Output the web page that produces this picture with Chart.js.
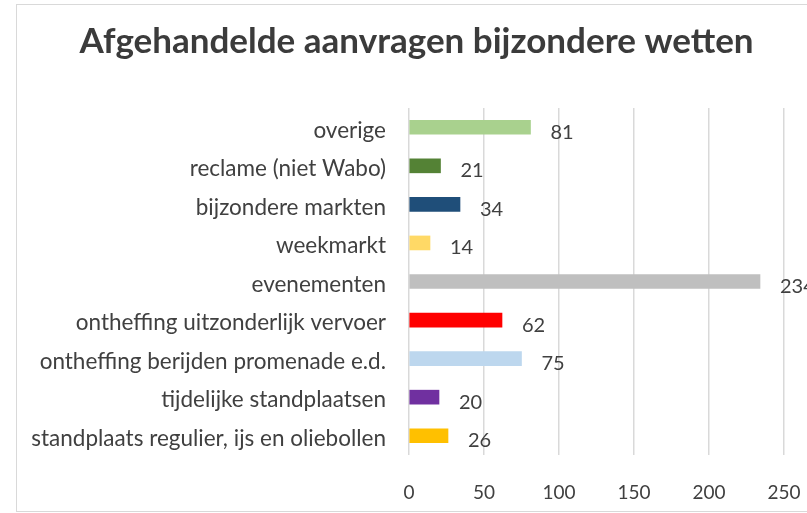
<!DOCTYPE html>
<html>
<head>
<meta charset="utf-8">
<script src="https://cdn.jsdelivr.net/npm/chart.js@4/dist/chart.umd.min.js"></script>
<style>
  html, body { margin: 0; padding: 0; background: #fff; overflow: hidden; }
  #frame {
    position: absolute; left: 16px; top: 4px;
    width: 799px; height: 506px;
    border: 1px solid #d9d9d9;
  }
</style>
</head>
<body>
<div id="frame"><canvas id="chart" width="799" height="506"></canvas></div>
<script>
// categories top to bottom, as shown in the chart
const categories = [
  "overige",
  "reclame (niet Wabo)",
  "bijzondere markten",
  "weekmarkt",
  "evenementen",
  "ontheffing uitzonderlijk vervoer",
  "ontheffing berijden promenade e.d.",
  "tijdelijke standplaatsen",
  "standplaats regulier, ijs en oliebollen"
];
const counts = [81, 21, 34, 14, 234, 62, 75, 20, 26];
const barColors = ["#A9D18E", "#548235", "#1F4E79", "#FFD966", "#BFBFBF", "#FF0000", "#BDD7EE", "#7030A0", "#FFC000"];
const xTicks = [0, 50, 100, 150, 200, 250];

const textColor = "#404040";

// value labels just past the end of each bar
const valueLabels = {
  id: 'valueLabels',
  afterDatasetsDraw(chart) {
    const ctx = chart.ctx;
    const meta = chart.getDatasetMeta(0);
    ctx.save();
    ctx.font = '20px Lato';
    ctx.fillStyle = textColor;
    ctx.textAlign = 'left';
    ctx.textBaseline = 'middle';
    meta.data.forEach((bar, i) => {
      ctx.fillText(String(counts[i]), bar.x + 20, bar.y + 5);
    });
    ctx.restore();
  }
};

new Chart(document.getElementById('chart'), {
  type: 'bar',
  data: {
    labels: categories,
    datasets: [{
      data: counts,
      backgroundColor: barColors,
      barThickness: 14
    }]
  },
  options: {
    indexAxis: 'y',
    responsive: false,
    animation: false,
    layout: { padding: 0 },
    plugins: {
      legend: { display: false },
      tooltip: { enabled: false },
      title: {
        display: true,
        text: 'Afgehandelde aanvragen bijzondere wetten',
        color: '#3b3b3b',
        font: { family: 'Lato', size: 35, weight: 'bold', lineHeight: 1.2 },
        padding: { top: 16, bottom: 45 }
      }
    },
    scales: {
      x: {
        min: 0,
        max: 250,
        afterBuildTicks(scale) {
          scale.ticks = xTicks.map(v => ({ value: v }));
        },
        afterFit(scale) {
          scale.height = 56;
          // tick padding is only meant vertically here
          scale.paddingLeft = 0;
          scale.paddingRight = 0;
        },
        grid: { color: '#d9d9d9', lineWidth: 1.5, drawTicks: false },
        border: { display: false },
        ticks: {
          color: textColor,
          padding: 26,
          font: { family: 'Lato', size: 19 }
        }
      },
      y: {
        afterFit(scale) { scale.width = 392; },
        grid: { display: false, drawTicks: false },
        border: { display: false },
        ticks: {
          color: textColor,
          padding: 23,
          labelOffset: 3,
          font: { family: 'Lato', size: 22.5 }
        }
      },
      // empty strip on the right, room for the overflowing value label
      yRight: {
        type: 'category',
        position: 'right',
        afterFit(scale) { scale.width = 32; },
        grid: { display: false, drawTicks: false },
        border: { display: false },
        ticks: { display: false }
      }
    }
  },
  plugins: [valueLabels]
});
</script>
</body>
</html>
